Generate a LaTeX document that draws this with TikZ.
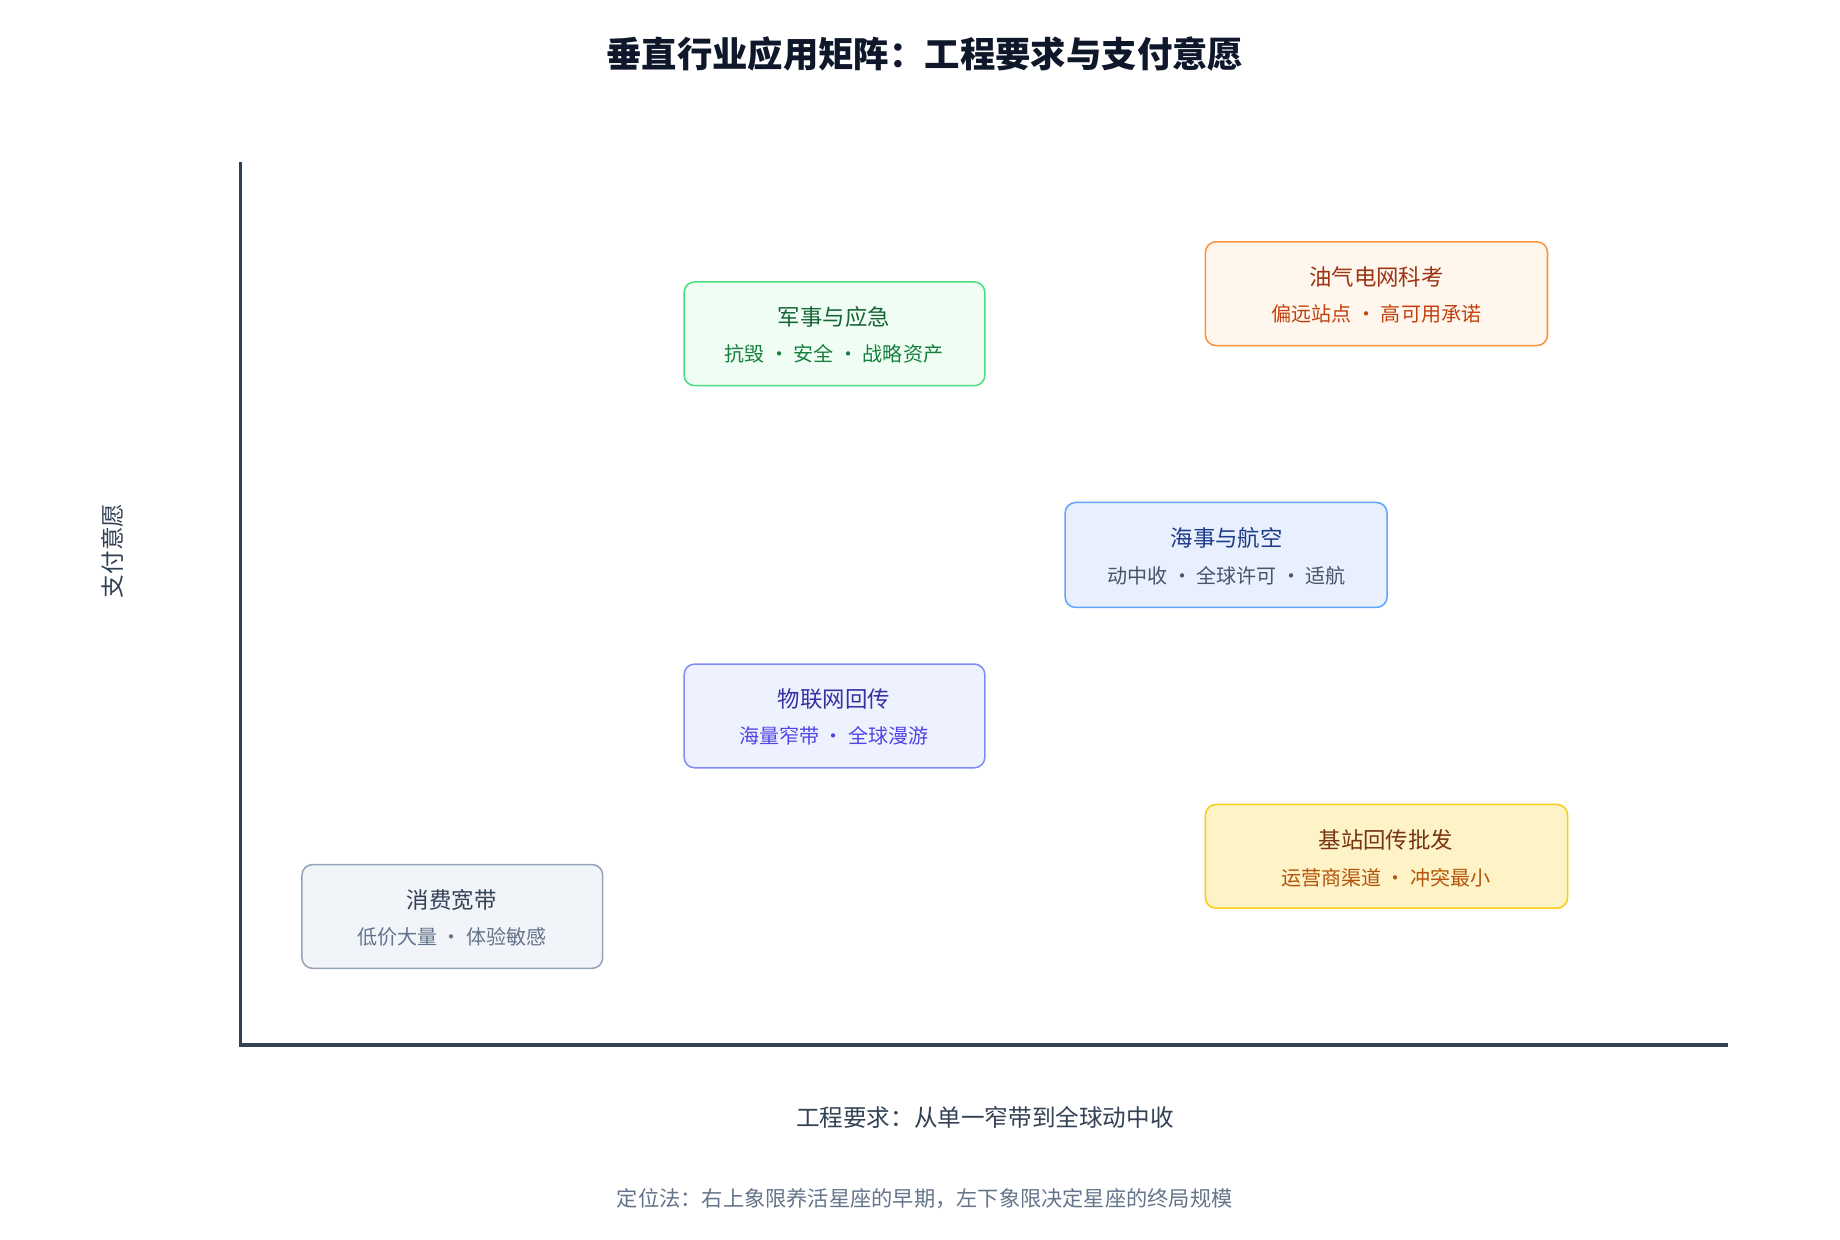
\documentclass[tikz,border=0pt]{standalone}
\usepackage{fontspec}
\setmainfont{Noto Sans CJK SC}
\definecolor{axis}{HTML}{334155}
\definecolor{foot}{HTML}{64748B}
\definecolor{ttl}{HTML}{0F172A}
\begin{document}
\begin{tikzpicture}[x=1pt,y=-1pt,
  box/.style={rounded corners=9pt,line width=1.3pt},
  tt/.style={font=\fontsize{19}{22}\selectfont},
  st/.style={font=\fontsize{17}{20}\selectfont}]
\useasboundingbox (0,0) rectangle (1560,1051);
\node[font=\fontsize{30}{34}\selectfont\bfseries,text=ttl] (title) at (784,46) {垂直行业应用矩阵：工程要求与支付意愿};
\coordinate (o) at (204,886);
\coordinate (ytop) at (204,137);
\coordinate (xend) at (1465,886);
\draw[axis,line width=3pt] (ytop) -- (o) -- (xend);
\node[rotate=90,font=\fontsize{20}{24}\selectfont,text=axis] (yl) at (95,467) {支付意愿};
\node[font=\fontsize{20}{24}\selectfont,text=axis] (xl) at (835,947) {工程要求：从单一窄带到全球动中收};
\node[font=\fontsize{18}{22}\selectfont,text=foot] (ft) at (784,1016) {定位法：右上象限养活星座的早期，左下象限决定星座的终局规模};
\path[box,draw={rgb,255:red,74;green,222;blue,128},fill={rgb,255:red,240;green,253;blue,244}] (580,239) rectangle (835,327);
\node[tt,text={rgb,255:red,22;green,101;blue,52}] (m1) at (707,269) {军事与应急};
\node[st,text={rgb,255:red,21;green,128;blue,61}] (m2) at (707,300) {抗毁 · 安全 · 战略资产};
\path[box,draw={rgb,255:red,251;green,146;blue,60},fill={rgb,255:red,255;green,247;blue,237}] (1022,205) rectangle (1312,293);
\node[tt,text={rgb,255:red,154;green,52;blue,18}] (o1) at (1167,235) {油气电网科考};
\node[st,text={rgb,255:red,194;green,65;blue,12}] (o2) at (1167,266) {偏远站点 · 高可用承诺};
\path[box,draw={rgb,255:red,96;green,165;blue,250},fill={rgb,255:red,232;green,240;blue,254}] (903,426) rectangle (1176,515);
\node[tt,text={rgb,255:red,30;green,58;blue,138}] (h1) at (1040,456) {海事与航空};
\node[st,text={rgb,255:red,71;green,85;blue,105}] (h2) at (1040,488) {动中收 · 全球许可 · 适航};
\path[box,draw={rgb,255:red,129;green,140;blue,248},fill={rgb,255:red,238;green,242;blue,255}] (580,563) rectangle (835,651);
\node[tt,text={rgb,255:red,55;green,48;blue,163}] (i1) at (707,593) {物联网回传};
\node[st,text={rgb,255:red,79;green,70;blue,229}] (i2) at (707,624) {海量窄带 · 全球漫游};
\path[box,draw={rgb,255:red,250;green,204;blue,21},fill={rgb,255:red,254;green,243;blue,199}] (1022,682) rectangle (1329,770);
\node[tt,text={rgb,255:red,120;green,53;blue,15}] (b1) at (1175,712) {基站回传批发};
\node[st,text={rgb,255:red,180;green,83;blue,9}] (b2) at (1175,744) {运营商渠道 · 冲突最小};
\path[box,draw={rgb,255:red,148;green,163;blue,184},fill={rgb,255:red,241;green,245;blue,249}] (256,733) rectangle (511,821);
\node[tt,text={rgb,255:red,51;green,65;blue,85}] (c1) at (383,763) {消费宽带};
\node[st,text={rgb,255:red,100;green,116;blue,139}] (c2) at (383,794) {低价大量 · 体验敏感};
\end{tikzpicture}
\end{document}
